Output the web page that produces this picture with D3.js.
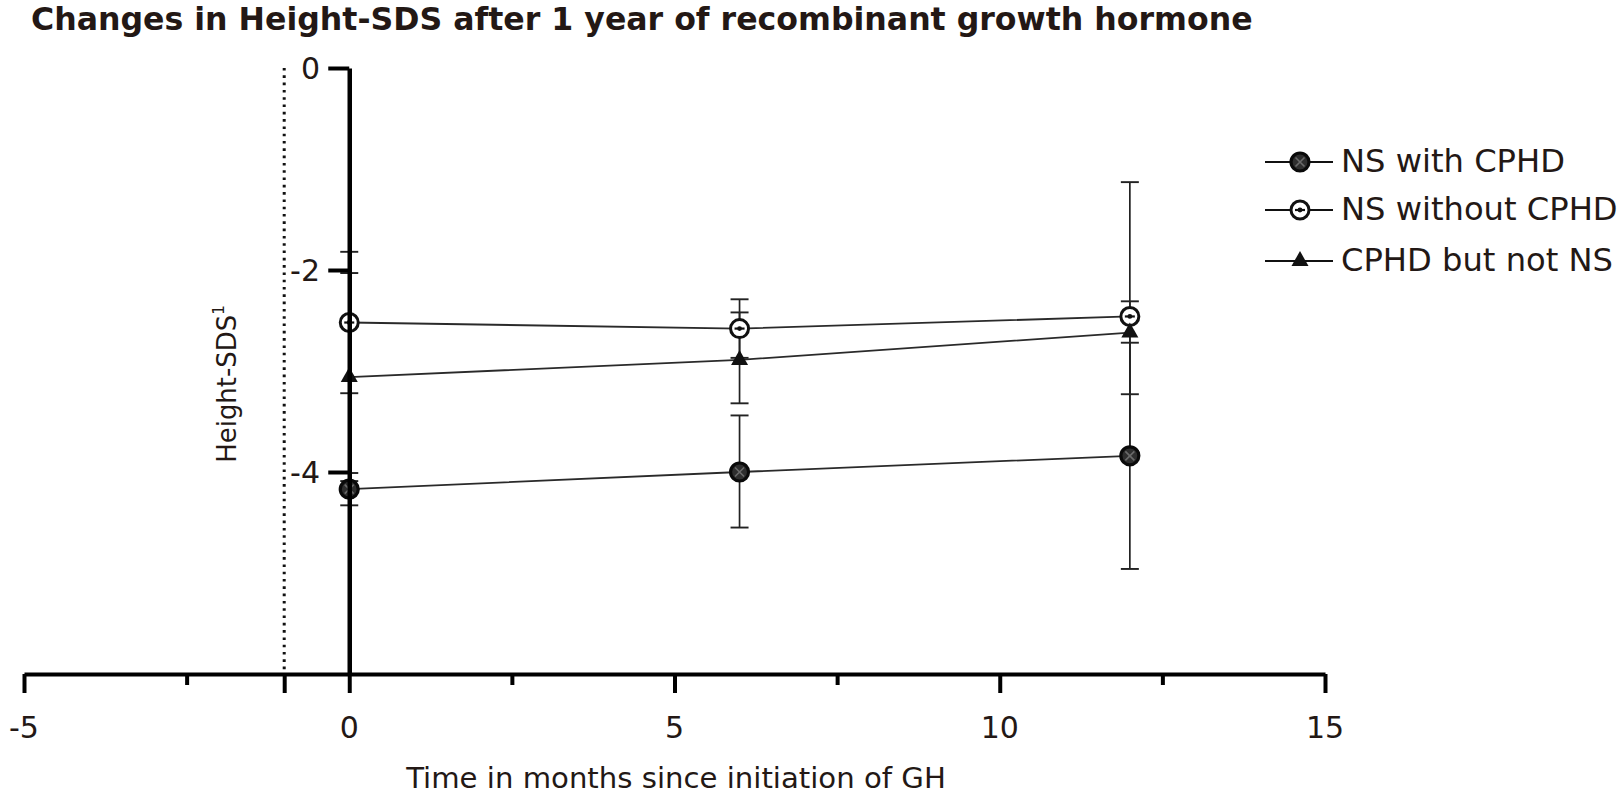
<!DOCTYPE html>
<html>
<head>
<meta charset="utf-8">
<script src="https://cdn.jsdelivr.net/npm/d3@7"></script>
<style>
  body { margin: 0; background: #fff; }
  svg { display: block; }
</style>
</head>
<body>
<div id="chart"></div>
<script>
// data
var months = [0, 6, 12];
var seriesNames = ["NS with CPHD", "NS without CPHD", "CPHD but not NS"];

var nsCphdMean = [-4.17, -4.0, -3.84];
var nsCphdLow  = [-4.33, -4.55, -4.96];
var nsCphdHigh = [-4.01, -3.44, -2.72];

var nsOnlyMean = [-2.52, -2.58, -2.46];
var nsOnlyLow  = [-3.22, -2.87, -3.79];
var nsOnlyHigh = [-1.82, -2.29, -1.13];

var cphdOnlyMean = [-3.06, -2.89, -2.62];
var cphdOnlyLow  = [-4.09, -3.32, -3.23];
var cphdOnlyHigh = [-2.03, -2.42, -2.31];

var xMajorTicks = [-5, -1, 0, 5, 10, 15];
var xLabelTicks = [-5, 0, 5, 10, 15];
var xMinorTicks = [-2.5, 2.5, 7.5, 12.5];
var yTicks = [0, -2, -4];
var refLineX = -1;

var W = 1619, H = 797;
var textCol = "#231815";
var labelFont = "'DejaVu Sans', Verdana, sans-serif";

var svg = d3.select("#chart")
  .append("svg")
    .attr("width", W)
    .attr("height", H)

var x = d3.scaleLinear().domain([-5, 15]).range([24, 1325])
var y = d3.scaleLinear().domain([-6, 0]).range([674, 68])

// scale a text's font size so it takes a given width
function fit(sel, w) {
  var fs = parseFloat(sel.attr("font-size"))
  var len = sel.node().getComputedTextLength()
  sel.attr("font-size", fs * w / len)
}

// title
svg.append("text")
    .attr("x", 31)
    .attr("y", 30)
    .attr("font-family", "'DejaVu Sans', sans-serif")
    .attr("font-weight", "bold")
    .attr("font-size", 26)
    .attr("fill", textCol)
    .text("Changes in Height-SDS after 1 year of recombinant growth hormone")
    .call(fit, 1222)

// build the three series
var series = [
  {name: seriesNames[0], mean: nsCphdMean, lo: nsCphdLow, hi: nsCphdHigh, shape: "cross"},
  {name: seriesNames[1], mean: nsOnlyMean, lo: nsOnlyLow, hi: nsOnlyHigh, shape: "open"},
  {name: seriesNames[2], mean: cphdOnlyMean, lo: cphdOnlyLow, hi: cphdOnlyHigh, shape: "tri"}
].map(function(s) {
  s.points = months.map(function(m, i) {
    return {m: m, v: s.mean[i], lo: s.lo[i], hi: s.hi[i]}
  })
  return s
})

var line = d3.line()
  .x(function(d) { return x(d.m) })
  .y(function(d) { return y(d.v) })

var plot = svg.append("g")

// dotted reference line
plot.append("line")
    .attr("x1", x(refLineX)).attr("x2", x(refLineX))
    .attr("y1", y(0)).attr("y2", y(-6))
    .attr("stroke", "#111")
    .attr("stroke-width", 3)
    .attr("stroke-dasharray", "2.6,4.7")

// error bars
series.forEach(function(s) {
  var g = plot.append("g")
  g.selectAll("line.bar")
    .data(s.points)
    .enter()
    .append("line")
      .attr("x1", function(d) { return x(d.m) })
      .attr("x2", function(d) { return x(d.m) })
      .attr("y1", function(d) { return y(d.lo) })
      .attr("y2", function(d) { return y(d.hi) })
      .attr("stroke", "#222")
      .attr("stroke-width", 1.7)
  ;["lo", "hi"].forEach(function(k) {
    g.selectAll("line.cap" + k)
      .data(s.points)
      .enter()
      .append("line")
        .attr("x1", function(d) { return x(d.m) - 9 })
        .attr("x2", function(d) { return x(d.m) + 9 })
        .attr("y1", function(d) { return y(d[k]) })
        .attr("y2", function(d) { return y(d[k]) })
        .attr("stroke", "#222")
        .attr("stroke-width", 1.9)
  })
})

// connecting lines
series.forEach(function(s) {
  plot.append("path")
      .datum(s.points)
      .attr("d", line)
      .attr("fill", "none")
      .attr("stroke", "#2a2a2a")
      .attr("stroke-width", 1.8)
})

// markers
function drawMarker(g, shape) {
  if (shape === "cross") {
    g.append("circle").attr("r", 9).attr("fill", "#2e2e2e").attr("stroke", "#0a0a0a").attr("stroke-width", 3.2)
    g.append("path").attr("d", "M-4.5,-4.5L4.5,4.5M-4.5,4.5L4.5,-4.5")
      .attr("stroke", "#6a6a6a").attr("stroke-width", 1.6)
  } else if (shape === "open") {
    g.append("circle").attr("r", 9).attr("fill", "#fff").attr("stroke", "#111").attr("stroke-width", 3)
    g.append("path").attr("d", "M-5,0L5,0").attr("stroke", "#111").attr("stroke-width", 2.2)
    g.append("circle").attr("r", 2.4).attr("fill", "#111")
  } else {
    g.append("path").attr("d", "M0,-10L8.5,5L-8.5,5Z").attr("fill", "#111")
  }
}

series.forEach(function(s) {
  plot.selectAll(null)
    .data(s.points)
    .enter()
    .append("g")
      .attr("transform", function(d) { return "translate(" + x(d.m) + "," + y(d.v) + ")" })
      .each(function() { drawMarker(d3.select(this), s.shape) })
})

// X axis: major, minor ticks
var xAxisG = svg.append("g")
    .attr("transform", "translate(0," + y(-6) + ")")
xAxisG.call(d3.axisBottom(x).tickValues(xMajorTicks).tickSize(19).tickSizeOuter(0).tickFormat(""))
xAxisG.append("g")
    .call(d3.axisBottom(x).tickValues(xMinorTicks).tickSize(11).tickSizeOuter(0).tickFormat(""))
    .select(".domain").remove()
xAxisG.selectAll("path.domain").attr("stroke", "#000").attr("stroke-width", 4)
xAxisG.selectAll(".tick line").attr("stroke", "#000").attr("stroke-width", 4)

// X tick labels
svg.append("g")
  .selectAll("text")
  .data(xLabelTicks)
  .enter()
  .append("text")
    .attr("x", function(d) { return x(d) })
    .attr("y", 738)
    .attr("text-anchor", "middle")
    .attr("font-family", labelFont)
    .attr("font-size", 30)
    .attr("fill", textCol)
    .text(function(d) { return d })

// Y axis
var yAxisG = svg.append("g")
    .attr("transform", "translate(" + x(0) + ",0)")
    .call(d3.axisLeft(y).tickValues(yTicks).tickSize(21).tickSizeOuter(0).tickFormat(""))
yAxisG.selectAll("path.domain").attr("stroke", "#000").attr("stroke-width", 4.5)
yAxisG.selectAll(".tick line").attr("stroke", "#000").attr("stroke-width", 4)

svg.append("g")
  .selectAll("text")
  .data(yTicks)
  .enter()
  .append("text")
    .attr("x", 320)
    .attr("y", function(d) { return y(d) + 11 })
    .attr("text-anchor", "end")
    .attr("font-family", labelFont)
    .attr("font-size", 30)
    .attr("fill", textCol)
    .text(function(d) { return d === 0 ? "0" : "-" + Math.abs(d) })

// axis titles
svg.append("text")
    .attr("x", 676)
    .attr("y", 788)
    .attr("text-anchor", "middle")
    .attr("font-family", labelFont)
    .attr("font-size", 26)
    .attr("fill", textCol)
    .text("Time in months since initiation of GH")
    .call(fit, 540)

var yTitle = svg.append("text")
    .attr("transform", "translate(236,384) rotate(-90)")
    .attr("text-anchor", "middle")
    .attr("font-family", labelFont)
    .attr("font-size", 26)
    .attr("fill", textCol)
var yMain = yTitle.append("tspan").text("Height-SDS")
yTitle.append("tspan").attr("font-size", 15).attr("dy", -12).text("1")
var fs0 = 26
var yLen = yMain.node().getComputedTextLength()
yTitle.attr("font-size", fs0 * 148 / yLen)

// legend
var legend = svg.append("g")
var legendFs = null
series.forEach(function(s, i) {
  var ly = [162, 210, 261][i]
  var g = legend.append("g").attr("transform", "translate(0," + ly + ")")
  g.append("line")
      .attr("x1", 1265).attr("x2", 1333)
      .attr("y1", 0).attr("y2", 0)
      .attr("stroke", "#111").attr("stroke-width", 2.2)
  drawMarker(g.append("g").attr("transform", "translate(1300,0)"), s.shape)
  var t = g.append("text")
      .attr("x", 1341)
      .attr("y", 10)
      .attr("font-family", labelFont)
      .attr("font-size", 28)
      .attr("fill", textCol)
      .text(s.name)
  if (i === 0) { t.call(fit, 224); legendFs = t.attr("font-size") }
  else t.attr("font-size", legendFs)
})
</script>
</body>
</html>
